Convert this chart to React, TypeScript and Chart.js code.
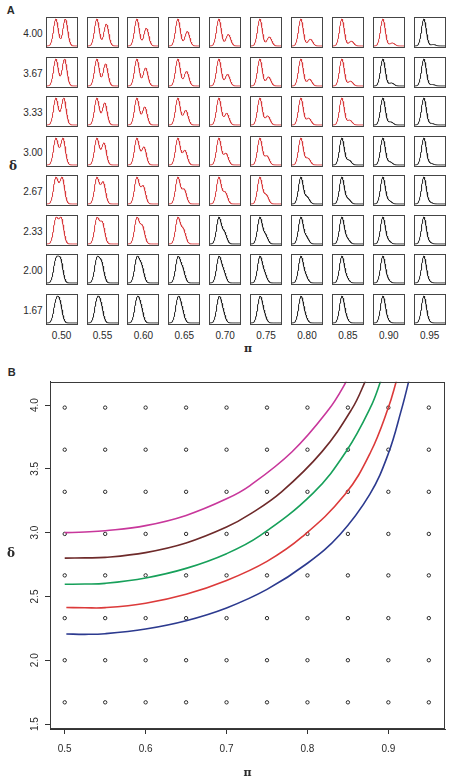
import React, { useEffect, useRef } from "react";
import { Chart, registerables } from "chart.js";

Chart.register(...registerables);

// ---------- Panel A data ----------
const PI_VALUES = [0.5, 0.55, 0.6, 0.65, 0.7, 0.75, 0.8, 0.85, 0.9, 0.95];
const PI_LABELS = ["0.50", "0.55", "0.60", "0.65", "0.70", "0.75", "0.80", "0.85", "0.90", "0.95"];
const DELTA_VALUES = [4.0, 3.67, 3.33, 3.0, 2.67, 2.33, 2.0, 1.67];
const DELTA_LABELS = ["4.00", "3.67", "3.33", "3.00", "2.67", "2.33", "2.00", "1.67"];
// number of red-drawn (bimodal) panels in each row, counted from the left
const RED_COLUMNS_PER_ROW = [9, 8, 8, 7, 6, 4, 0, 0];
const DENSITY_X_RANGE = [-3.75, 8.95];
const DENSITY_Y_RANGE = [-0.04, 1.04];

// ---------- Panel B data ----------
const B_PI = [0.5, 0.55, 0.6, 0.65, 0.7, 0.75, 0.8, 0.85, 0.9, 0.95];
const B_DELTA = [1.67, 2.0, 2.33, 2.665, 2.99, 3.32, 3.65, 3.98];
const B_X_TICKS = [0.5, 0.6, 0.7, 0.8, 0.9];
const B_Y_TICKS = [1.5, 2.0, 2.5, 3.0, 3.5, 4.0];
const B_X_RANGE = [0.4818, 0.97];
const B_Y_RANGE = [1.461, 4.183];

const CURVE_MAGENTA = [[0.5, 3.0], [0.525, 3.005], [0.55, 3.015], [0.6, 3.055], [0.65, 3.135], [0.7, 3.265], [0.729, 3.369], [0.781, 3.634], [0.826, 3.963], [0.8465, 4.168], [0.851, 4.24]];
const CURVE_BROWN = [[0.5, 2.8], [0.525, 2.802], [0.55, 2.806], [0.6, 2.8435], [0.65, 2.9185], [0.7, 3.0435], [0.729, 3.145], [0.768, 3.32], [0.818, 3.635], [0.855, 3.97], [0.871, 4.18], [0.875, 4.25]];
const CURVE_GREEN = [[0.5, 2.595], [0.525, 2.597], [0.55, 2.6025], [0.6, 2.645], [0.65, 2.72], [0.7, 2.835], [0.7414, 2.976], [0.807, 3.31], [0.848, 3.638], [0.878, 3.983], [0.891, 4.197], [0.894, 4.26]];
const CURVE_RED = [[0.502, 2.413], [0.525, 2.411], [0.55, 2.412], [0.6, 2.447], [0.65, 2.517], [0.7, 2.625], [0.75, 2.775], [0.794, 2.97], [0.8465, 3.3], [0.878, 3.63], [0.9, 3.98], [0.91, 4.19], [0.913, 4.26]];
const CURVE_BLUE = [[0.502, 2.206], [0.525, 2.203], [0.55, 2.208], [0.6, 2.245], [0.65, 2.31], [0.7, 2.41], [0.75, 2.555], [0.8, 2.76], [0.84, 2.984], [0.877, 3.3], [0.9, 3.62], [0.916, 3.96], [0.9245, 4.17], [0.927, 4.25]];
const CURVE_COLORS = ["#C8379B", "#6E2A2A", "#17A05A", "#DC3A3A", "#2C3A8F"];

const SANS = "'Liberation Sans', Arial, Helvetica, sans-serif";
const GREEK = "'DejaVu Serif', 'Liberation Serif', serif";
const TEXT = "#2a2a2a";

// layout of panel A
const CELL_X0 = 45.6;
const CELL_DX = 40.9;
const CELL_Y0 = 17.3;
const CELL_DY = 39.5;
const CELL_W = 32;
const CELL_H = 31;

// two-component normal mixture density: weight pi at 0, 1-pi at delta
function mixtureCurve(pi: number, delta: number) {
  const n = 160;
  const pts: { x: number; y: number }[] = [];
  const [x0, x1] = DENSITY_X_RANGE;
  for (let i = 0; i <= n; i++) {
    const x = x0 + ((x1 - x0) * i) / n;
    const y = pi * Math.exp(-0.5 * x * x) + (1 - pi) * Math.exp(-0.5 * (x - delta) * (x - delta));
    pts.push({ x, y });
  }
  const m = Math.max(...pts.map((p) => p.y));
  return pts.map((p) => ({ x: p.x, y: p.y / m }));
}

function DensityCell({ pi, delta, red, left, top }: { pi: number; delta: number; red: boolean; left: number; top: number }) {
  const ref = useRef<HTMLCanvasElement>(null);
  useEffect(() => {
    const chart = new Chart(ref.current as HTMLCanvasElement, {
      type: "line",
      data: {
        datasets: [
          {
            data: mixtureCurve(pi, delta),
            borderColor: red ? "#D83A3C" : "#202020",
            borderWidth: 1,
            pointRadius: 0,
            tension: 0,
            fill: false,
          },
        ],
      },
      options: {
        animation: false,
        responsive: false,
        devicePixelRatio: 1,
        events: [],
        parsing: false,
        layout: { padding: 0 },
        plugins: { legend: { display: false }, tooltip: { enabled: false } },
        scales: {
          x: { type: "linear", display: false, min: DENSITY_X_RANGE[0], max: DENSITY_X_RANGE[1] },
          y: { type: "linear", display: false, min: DENSITY_Y_RANGE[0], max: DENSITY_Y_RANGE[1] },
        },
      } as any,
    });
    return () => chart.destroy();
  }, [pi, delta, red]);
  return (
    <div
      style={{
        position: "absolute",
        left,
        top,
        width: CELL_W,
        height: CELL_H,
        border: "1px solid #454545",
        boxSizing: "border-box",
        background: "#fff",
      }}
    >
      <canvas ref={ref} width={CELL_W - 2} height={CELL_H - 2} style={{ display: "block", width: CELL_W - 2, height: CELL_H - 2 }} />
    </div>
  );
}

function PanelB() {
  const ref = useRef<HTMLCanvasElement>(null);
  useEffect(() => {
    const points: { x: number; y: number }[] = [];
    for (const d of B_DELTA) for (const p of B_PI) points.push({ x: p, y: d });
    const curves = [CURVE_MAGENTA, CURVE_BROWN, CURVE_GREEN, CURVE_RED, CURVE_BLUE].map((c, i) => ({
      data: c.map(([x, y]) => ({ x, y })),
      showLine: true,
      borderColor: CURVE_COLORS[i],
      borderWidth: 1.6,
      pointRadius: 0,
      tension: 0.4,
      fill: false,
    }));
    const boxPlugin = {
      id: "box",
      afterDraw(chart: any) {
        const { ctx, chartArea } = chart;
        const l = Math.round(chartArea.left) + 0.5;
        const t = Math.round(chartArea.top) + 0.5;
        const r = Math.round(chartArea.right) - 0.5;
        const b = Math.round(chartArea.bottom) - 0.5;
        ctx.save();
        ctx.strokeStyle = "#3a3a3a";
        ctx.lineWidth = 1;
        ctx.strokeRect(l, t, r - l, b - t);
        ctx.restore();
      },
    };
    const tickFont = { family: SANS, size: 10 };
    const chart = new Chart(ref.current as HTMLCanvasElement, {
      type: "scatter",
      data: {
        datasets: [
          ...curves,
          {
            data: points,
            showLine: false,
            pointRadius: 1.7,
            pointBorderWidth: 1,
            pointBorderColor: "#2a2a2a",
            pointBackgroundColor: "rgba(0,0,0,0)",
          },
        ],
      },
      options: {
        animation: false,
        responsive: false,
        devicePixelRatio: 1,
        events: [],
        layout: { padding: { top: 26.7, right: 7, left: 0, bottom: 0 } },
        plugins: { legend: { display: false }, tooltip: { enabled: false } },
        scales: {
          x: {
            type: "linear",
            min: B_X_RANGE[0],
            max: B_X_RANGE[1],
            afterBuildTicks: (s: any) => {
              s.ticks = B_X_TICKS.map((v) => ({ value: v }));
            },
            afterFit: (s: any) => {
              s.height = 53;
            },
            ticks: {
              callback: (v: any) => Number(v).toFixed(1),
              font: tickFont,
              color: TEXT,
              padding: 9,
              maxRotation: 0,
              autoSkip: false,
            },
            grid: { drawOnChartArea: false, drawTicks: true, tickLength: 5, color: "#333" },
            border: { display: true, color: "#333" },
            title: {
              display: true,
              text: "π",
              color: TEXT,
              font: { family: GREEK, size: 11, weight: "bold" },
              padding: { top: 0, bottom: 2.4 },
            },
          },
          y: {
            type: "linear",
            min: B_Y_RANGE[0],
            max: B_Y_RANGE[1],
            afterBuildTicks: (s: any) => {
              s.ticks = B_Y_TICKS.map((v) => ({ value: v }));
            },
            afterFit: (s: any) => {
              s.width = 50;
            },
            ticks: {
              callback: (v: any) => Number(v).toFixed(1),
              font: tickFont,
              color: TEXT,
              padding: 2.4,
              minRotation: 90,
              maxRotation: 90,
              crossAlign: "center",
              autoSkip: false,
            },
            grid: { drawOnChartArea: false, drawTicks: true, tickLength: 5, color: "#333" },
            border: { display: true, color: "#333" },
          },
        },
      } as any,
      plugins: [boxPlugin],
    });
    return () => chart.destroy();
  }, []);
  return (
    <canvas
      ref={ref}
      width={452}
      height={427}
      style={{ position: "absolute", left: 0, top: 355, width: 452, height: 427, display: "block" }}
    />
  );
}

function Label({ text, cx, cy, font, size, bold, align = "center", width = 40 }: any) {
  const left = align === "right" ? cx - width : cx - width / 2;
  return (
    <div
      style={{
        position: "absolute",
        left,
        top: cy - size * 0.6,
        width,
        height: size * 1.2,
        lineHeight: `${size * 1.2}px`,
        fontFamily: font,
        fontSize: size,
        fontWeight: bold ? "bold" : "normal",
        textAlign: align,
        color: TEXT,
        whiteSpace: "nowrap",
      }}
    >
      {text}
    </div>
  );
}

export default function App() {
  const cells: React.ReactNode[] = [];
  DELTA_VALUES.forEach((d, r) => {
    PI_VALUES.forEach((p, c) => {
      cells.push(
        <DensityCell
          key={`${r}-${c}`}
          pi={p}
          delta={d}
          red={c < RED_COLUMNS_PER_ROW[r]}
          left={CELL_X0 + c * CELL_DX}
          top={CELL_Y0 + r * CELL_DY}
        />
      );
    });
  });
  return (
    <div style={{ position: "absolute", left: 0, top: 0, width: 452, height: 782, background: "#fff", overflow: "hidden" }}>
      <Label text="A" cx={10.7} cy={10.7} font={SANS} size={11} bold />
      {cells}
      {DELTA_LABELS.map((t, r) => (
        <Label key={t} text={t} cx={42.7} cy={CELL_Y0 + r * CELL_DY + 17} font={SANS} size={10} align="right" width={40} />
      ))}
      {PI_LABELS.map((t, c) => (
        <Label key={t} text={t} cx={CELL_X0 + c * CELL_DX + CELL_W / 2} cy={336} font={SANS} size={10} />
      ))}
      <Label text="δ" cx={13} cy={166} font={GREEK} size={12} bold width={20} />
      <Label text="π" cx={248} cy={349} font={GREEK} size={11} bold width={20} />
      <Label text="B" cx={11.7} cy={372.7} font={SANS} size={11} bold />
      <PanelB />
      <Label text="δ" cx={11} cy={553} font={GREEK} size={12} bold width={20} />
    </div>
  );
}
